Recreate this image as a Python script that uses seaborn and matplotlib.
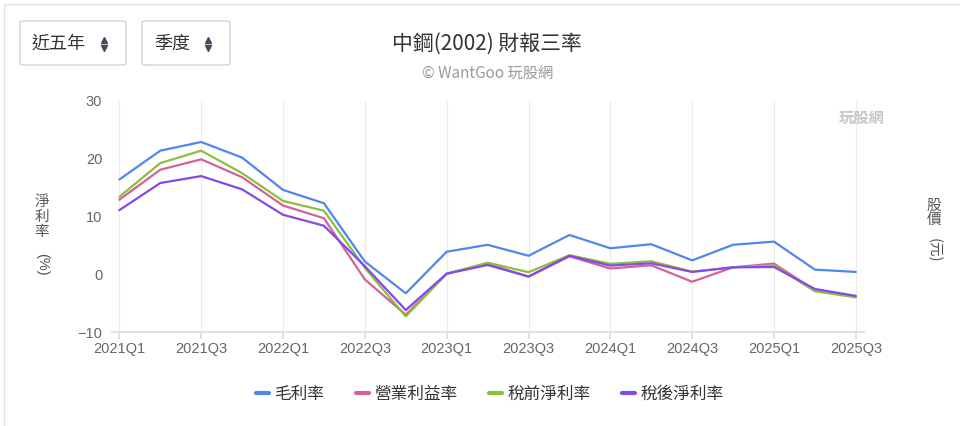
# 中鋼 財報三率 line chart
import pandas as pd
import seaborn as sns
import matplotlib.pyplot as plt
from matplotlib.patches import FancyBboxPatch, Rectangle
from matplotlib.lines import Line2D

quarters = ['2021Q1', '2021Q2', '2021Q3', '2021Q4',
            '2022Q1', '2022Q2', '2022Q3', '2022Q4',
            '2023Q1', '2023Q2', '2023Q3', '2023Q4',
            '2024Q1', '2024Q2', '2024Q3', '2024Q4',
            '2025Q1', '2025Q2', '2025Q3']
gross_margin = [16.4, 21.4, 22.9, 20.2, 14.6, 12.3, 2.2, -3.3, 3.9, 5.1,
                3.2, 6.8, 4.5, 5.2, 2.4, 5.1, 5.65, 0.8, 0.4]
operating_margin = [12.9, 18.1, 19.9, 16.8, 11.9, 9.7, -0.9, -7.0, 0.1, 1.8,
                    -0.4, 3.1, 1.0, 1.55, -1.3, 1.2, 1.85, -2.8, -3.9]
pretax_margin = [13.4, 19.25, 21.4, 17.5, 12.7, 11.0, 1.1, -7.3, 0.1, 2.0,
                 0.35, 3.3, 1.8, 2.25, 0.45, 1.2, 1.55, -2.95, -4.0]
net_margin = [11.1, 15.8, 17.0, 14.7, 10.3, 8.4, 1.4, -6.2, 0.1, 1.6,
              -0.4, 3.2, 1.5, 1.9, 0.4, 1.2, 1.25, -2.55, -3.75]
series_names = ['毛利率', '營業利益率', '稅前淨利率', '稅後淨利率']
colors = ['#5087ec', '#d6609a', '#8cbf3c', '#8549e8']

rows = []
for name, vals in zip(series_names, [gross_margin, operating_margin,
                                     pretax_margin, net_margin]):
    for i, v in enumerate(vals):
        rows.append({'idx': i, 'value': v, 'series': name})
df = pd.DataFrame(rows)

sns.set_theme(style='white')
cjk = ['Noto Sans CJK TC', 'DejaVu Sans']
latin = ['Liberation Sans', 'Noto Sans CJK TC']
plt.rcParams['font.family'] = cjk

fig = plt.figure(figsize=(9.6, 4.26), dpi=100)
ax = fig.add_axes([112 / 960, 1 - 332 / 426, (864 - 112) / 960, (332 - 101) / 426])

sns.lineplot(data=df, x='idx', y='value', hue='series', hue_order=series_names,
             palette=colors, linewidth=1.6, ax=ax, legend=False)

ax.set_xlim(-0.18, 18.2)
ax.set_ylim(-10, 30)
ax.set_yticks([-10, 0, 10, 20, 30])
ax.set_xticks(range(0, 19, 2))
ax.set_xticklabels(quarters[::2])
ax.tick_params(axis='y', length=0, labelsize=10.5, labelcolor='#666666', pad=7)
ax.tick_params(axis='x', length=5, color='#dddddd', labelsize=10.5,
               labelcolor='#666666', pad=2, bottom=True)
for lab in ax.get_xticklabels() + ax.get_yticklabels():
    lab.set_family(latin)
ax.grid(axis='x', color='#ececec', linewidth=0.8)
ax.grid(axis='y', visible=False)
for side in ['top', 'right', 'left']:
    ax.spines[side].set_visible(False)
ax.spines['bottom'].set_color('#dddddd')
ax.set_xlabel('')
ax.set_ylabel('')

# vertical axis titles
fig.text(42 / 960, 1 - 217 / 426, '淨\n利\n率', ha='center', va='center',
         fontsize=10.5, color='#555555', linespacing=1.05)
fig.text(42 / 960, 1 - 264 / 426, '(%)', ha='center', va='center',
         fontsize=10.5, color='#555555', rotation=-90, family=latin)
fig.text(934 / 960, 1 - 213 / 426, '股\n價', ha='center', va='center',
         fontsize=10.5, color='#555555', linespacing=1.05)
fig.text(934 / 960, 1 - 250 / 426, '(元)', ha='center', va='center',
         fontsize=10.5, color='#555555', rotation=-90)

# title
fig.text(487 / 960, 1 - 44 / 426, '中鋼(2002) 財報三率', ha='center', va='center',
         fontsize=15, color='#333333')
fig.text(488 / 960, 1 - 73 / 426, '© WantGoo 玩股網', ha='center', va='center',
         fontsize=11, color='#999999')

# watermark
fig.text(862 / 960, 1 - 118 / 426, '玩股網', ha='center', va='center',
         fontsize=11, color='#c6c6c6', fontweight='bold')

# card border
fig.add_artist(Rectangle((4 / 960, -0.01), 1.0, 1 - 4 / 426 + 0.01,
                         transform=fig.transFigure, fill=False,
                         edgecolor='#e3e3e3', linewidth=1))

# selector buttons
for x0, x1, label in [(20, 126, '近五年'), (142, 230, '季度')]:
    fig.add_artist(FancyBboxPatch((x0 / 960, 1 - 65 / 426),
                                  (x1 - x0) / 960, 44 / 426,
                                  boxstyle='round,pad=0,rounding_size=0.004',
                                  transform=fig.transFigure, fill=False,
                                  edgecolor='#d0d0d0', linewidth=0.9))
    fig.text((x0 + 12) / 960, 1 - 44 / 426, label, ha='left', va='center',
             fontsize=13, color='#333333')
    ix = (x1 - 22) / 960
    fig.add_artist(Line2D([ix], [1 - 40 / 426], marker='^', markersize=4,
                          color='#444c5c', transform=fig.transFigure))
    fig.add_artist(Line2D([ix], [1 - 48 / 426], marker='v', markersize=4,
                          color='#444c5c', transform=fig.transFigure))

handles = [Line2D([0], [0], color=c, linewidth=3) for c in colors]
fig.legend(handles, series_names, loc='center', bbox_to_anchor=(490 / 960, 1 - 394 / 426),
           ncol=4, frameon=False, handlelength=0.75, handletextpad=0.35,
           columnspacing=1.9, fontsize=12, labelcolor='#333333')

plt.savefig('out.png', dpi=100)
